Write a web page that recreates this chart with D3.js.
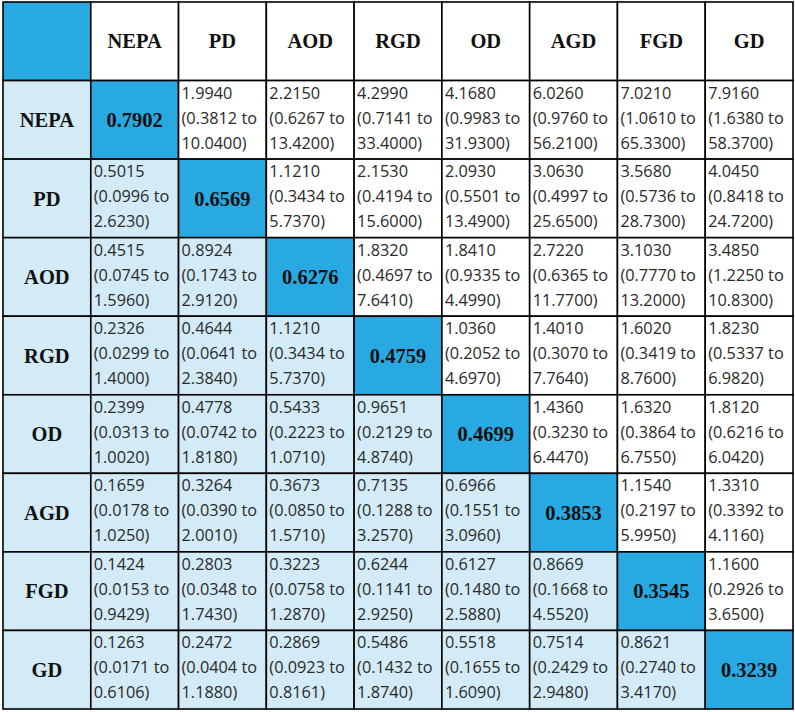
<!DOCTYPE html>
<html>
<head>
<meta charset="utf-8">
<script src="https://cdn.jsdelivr.net/npm/d3@7"></script>
<style>
  body { margin: 0; background: #fff; }
</style>
</head>
<body>
<div id="chart-container"></div>
<script>
// Row / column labels
const categories = ["NEPA", "PD", "AOD", "RGD", "OD", "AGD", "FGD", "GD"];

// Diagonal values
const diagonal = [0.7902, 0.6569, 0.6276, 0.4759, 0.4699, 0.3853, 0.3545, 0.3239];

// Off-diagonal estimates (null on the diagonal)
const estimates = [
  [null, 1.9940, 2.2150, 4.2990, 4.1680, 6.0260, 7.0210, 7.9160],
  [0.5015, null, 1.1210, 2.1530, 2.0930, 3.0630, 3.5680, 4.0450],
  [0.4515, 0.8924, null, 1.8320, 1.8410, 2.7220, 3.1030, 3.4850],
  [0.2326, 0.4644, 1.1210, null, 1.0360, 1.4010, 1.6020, 1.8230],
  [0.2399, 0.4778, 0.5433, 0.9651, null, 1.4360, 1.6320, 1.8120],
  [0.1659, 0.3264, 0.3673, 0.7135, 0.6966, null, 1.1540, 1.3310],
  [0.1424, 0.2803, 0.3223, 0.6244, 0.6127, 0.8669, null, 1.1600],
  [0.1263, 0.2472, 0.2869, 0.5486, 0.5518, 0.7514, 0.8621, null]
];

// Lower bounds of the intervals
const lowerCI = [
  [null, 0.3812, 0.6267, 0.7141, 0.9983, 0.9760, 1.0610, 1.6380],
  [0.0996, null, 0.3434, 0.4194, 0.5501, 0.4997, 0.5736, 0.8418],
  [0.0745, 0.1743, null, 0.4697, 0.9335, 0.6365, 0.7770, 1.2250],
  [0.0299, 0.0641, 0.3434, null, 0.2052, 0.3070, 0.3419, 0.5337],
  [0.0313, 0.0742, 0.2223, 0.2129, null, 0.3230, 0.3864, 0.6216],
  [0.0178, 0.0390, 0.0850, 0.1288, 0.1551, null, 0.2197, 0.3392],
  [0.0153, 0.0348, 0.0758, 0.1141, 0.1480, 0.1668, null, 0.2926],
  [0.0171, 0.0404, 0.0923, 0.1432, 0.1655, 0.2429, 0.2740, null]
];

// Upper bounds of the intervals
const upperCI = [
  [null, 10.0400, 13.4200, 33.4000, 31.9300, 56.2100, 65.3300, 58.3700],
  [2.6230, null, 5.7370, 15.6000, 13.4900, 25.6500, 28.7300, 24.7200],
  [1.5960, 2.9120, null, 7.6410, 4.4990, 11.7700, 13.2000, 10.8300],
  [1.4000, 2.3840, 5.7370, null, 4.6970, 7.7640, 8.7600, 6.9820],
  [1.0020, 1.8180, 1.0710, 4.8740, null, 6.4470, 6.7550, 6.0420],
  [1.0250, 2.0010, 1.5710, 3.2570, 3.0960, null, 5.9950, 4.1160],
  [0.9429, 1.7430, 1.2870, 2.9250, 2.5880, 4.5520, null, 3.6500],
  [0.6106, 1.1880, 0.8161, 1.8740, 1.6090, 2.9480, 3.4170, null]
];

function drawChart() {
  const width = 795;
  const height = 712;

  const darkBlue = "#29a9e1";
  const lightBlue = "#d3ebf6";

  const fmt = (v) => v.toFixed(4);

  const svg = d3.select("#chart-container")
    .append("svg")
    .attr("width", width)
    .attr("height", height);

  // Band scales: first band is the header row / column
  const keys = ["", ...categories];
  const x = d3.scaleBand().domain(keys).range([3, 793]);
  const y = d3.scaleBand().domain(keys).range([2, 709]);

  // Build cell list
  const cells = [];
  keys.forEach((rk, ri) => {
    keys.forEach((ck, ci) => {
      let type, fill;
      if (ri === 0 && ci === 0) { type = "corner"; fill = darkBlue; }
      else if (ri === 0) { type = "colHead"; fill = "#fff"; }
      else if (ci === 0) { type = "rowHead"; fill = lightBlue; }
      else if (ri === ci) { type = "diag"; fill = darkBlue; }
      else if (ci < ri) { type = "lower"; fill = lightBlue; }
      else { type = "upper"; fill = "#fff"; }
      cells.push({ row: rk, col: ck, ri: ri - 1, ci: ci - 1, type, fill });
    });
  });

  const g = svg.selectAll("g.cell")
    .data(cells)
    .enter()
    .append("g")
    .attr("class", "cell")
    .attr("transform", (d) => `translate(${x(d.col)}, ${y(d.row)})`);

  g.append("rect")
    .attr("width", x.bandwidth())
    .attr("height", y.bandwidth())
    .attr("fill", (d) => d.fill)
    .attr("stroke", "#000")
    .attr("stroke-width", 1.6);

  // Header labels and diagonal values (bold serif, centered)
  g.filter((d) => d.type === "colHead" || d.type === "rowHead" || d.type === "diag")
    .append("text")
    .attr("x", x.bandwidth() / 2)
    .attr("y", y.bandwidth() / 2)
    .attr("dy", "0.35em")
    .attr("text-anchor", "middle")
    .style("font-family", "'Liberation Serif', 'Times New Roman', serif")
    .style("font-weight", "bold")
    .style("font-size", "20.5px")
    .attr("fill", "#111")
    .text((d) => {
      if (d.type === "colHead") return d.col;
      if (d.type === "rowHead") return d.row;
      return fmt(diagonal[d.ri]);
    });

  // Estimate with interval, three lines
  const body = g.filter((d) => d.type === "lower" || d.type === "upper")
    .append("text")
    .style("font-family", "'Open Sans', sans-serif")
    .style("font-size", "16.3px")
    .attr("fill", "#2a2a2a");

  const lines = (d) => [
    fmt(estimates[d.ri][d.ci]),
    "(" + fmt(lowerCI[d.ri][d.ci]) + " to",
    fmt(upperCI[d.ri][d.ci]) + ")"
  ];

  body.selectAll("tspan")
    .data(lines)
    .enter()
    .append("tspan")
    .attr("x", 3)
    .attr("y", (d, i) => 18 + i * 25)
    .text((d) => d);
}

drawChart();
</script>
</body>
</html>
